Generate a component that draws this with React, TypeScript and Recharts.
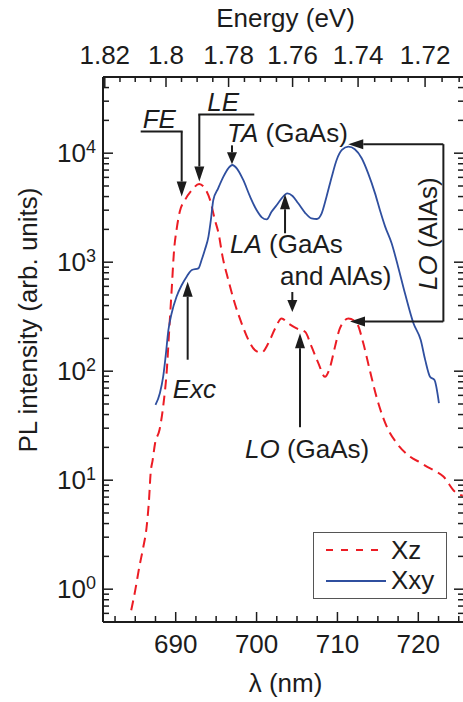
import { ComposedChart, Line, XAxis, YAxis, Legend, ReferenceDot, ReferenceLine, Label } from "recharts"

// Xz spectrum (red dashed)
const XZ_LAMBDA = [684.5, 685.0, 685.5, 686.0, 686.4, 686.7, 686.9, 687.15, 687.45, 688.0, 688.5, 688.9, 689.2, 689.5, 689.8, 690.1, 690.5, 691.15, 692.0, 692.9, 693.6, 694.25, 694.85, 695.3, 695.8, 696.5, 697.3, 698.15, 699.0, 699.8, 700.6, 701.45, 702.3, 703.1, 703.9, 704.95, 706.0, 706.8, 707.65, 708.45, 709.1, 709.7, 710.3, 711.35, 712.4, 713.2, 714.0, 715.05, 716.1, 717.35, 719.0, 720.4, 721.05, 721.85, 723.1, 724.55, 725.5]
const XZ_INT = [0.64, 0.98, 1.6, 2.45, 3.7, 6.6, 11.6, 15.3, 21.8, 29, 51, 102, 240, 555, 1290, 1970, 2900, 3720, 4590, 5210, 4760, 3720, 2440, 1840, 1120, 690, 420, 275, 193, 156, 148, 180, 247, 305, 275, 247, 230, 168, 118, 89, 110, 168, 247, 305, 275, 180, 102, 51, 31, 21.8, 16.4, 14.3, 13.3, 12.4, 10.8, 7.8, 7.2]

// Xxy spectrum (blue solid)
const XXY_LAMBDA = [687.5, 688.05, 688.45, 688.75, 689.1, 689.5, 690.1, 690.75, 691.35, 692.0, 692.8, 693.2, 693.6, 694.05, 694.35, 694.65, 695.25, 695.9, 696.5, 697.0, 697.55, 698.35, 699.2, 700.0, 700.65, 701.25, 701.85, 702.5, 703.1, 703.8, 704.45, 705.15, 706.0, 706.8, 707.45, 708.05, 708.65, 709.3, 709.9, 710.55, 711.35, 712.15, 713.0, 713.8, 714.65, 715.25, 715.9, 716.7, 717.5, 718.35, 719.4, 720.3, 720.85, 721.45, 722.0, 722.55]
const XXY_INT = [49, 63, 89, 136, 239, 340, 482, 618, 736, 848, 878, 1047, 1294, 1714, 2440, 3720, 4760, 6090, 7260, 7790, 7260, 5680, 3990, 3010, 2580, 2470, 2900, 3350, 3850, 4280, 4050, 3470, 2840, 2520, 2490, 2810, 3990, 6090, 8660, 10700, 11480, 10860, 8980, 6530, 4280, 3010, 2120, 1490, 910, 518, 275, 193, 127, 89, 83, 51]

const X_DOMAIN = [681.01, 725.65]
const Y_DOMAIN = [0.5, 50000]
const LAMBDA_MAJOR = [690, 700, 710, 720]
const ENERGY_MAJOR = [1.82, 1.8, 1.78, 1.76, 1.74, 1.72]
const DECADES = [1, 10, 100, 1000, 10000]
const HC = 1239.84 // eV nm

const FONT = '"Liberation Sans", Arial, Helvetica, sans-serif'
const INK = "#1c1c1c"
const RED = "#ec1c24"
const BLUE = "#2f4f9f"

const W = 466
const H = 702
const PLOT_LEFT = 103
const PLOT_RIGHT = 464
const PLOT_TOP = 77
const PLOT_BOTTOM = 622

const xzData = XZ_LAMBDA.map((x, i) => ({ x, y: XZ_INT[i] }))
const xxyData = XXY_LAMBDA.map((x, i) => ({ x, y: XXY_INT[i] }))

// tick lists
const bottomTicks: number[] = []
for (let v = 682.5; v <= 725; v += 2.5) bottomTicks.push(v)
const topTicks: number[] = []
for (let m = 1820; m >= 1710; m -= 5) topTicks.push(HC / (m / 1000))
const yTicks: number[] = [0.5, 0.6, 0.7, 0.8, 0.9]
DECADES.forEach((d) => {
    for (let k = 1; k <= 9; k++) if (d * k <= Y_DOMAIN[1]) yTicks.push(d * k)
})

const SERIES_STYLE: Record<string, { color: string; dash?: string }> = {
    Xz: { color: RED, dash: "7 8" },
    Xxy: { color: BLUE },
}

function YTick({ y, payload }: any) {
    const p = Math.log10(payload.value)
    const major = Math.abs(p - Math.round(p)) < 1e-6
    const len = major ? 10 : 6
    return (
        <g>
            <line x1={PLOT_LEFT} x2={PLOT_LEFT + len} y1={y} y2={y} stroke={INK} strokeWidth={1.5} />
            <line x1={PLOT_RIGHT} x2={PLOT_RIGHT - len} y1={y} y2={y} stroke={INK} strokeWidth={1.5} />
            {major && (
                <text x={96} y={y + 9} textAnchor="end" fontSize={26} fontFamily={FONT} fill={INK}>
                    <tspan>10</tspan>
                    <tspan dy={-9} fontSize={18}>{Math.round(p)}</tspan>
                </text>
            )}
        </g>
    )
}

function BottomTick({ x, payload }: any) {
    const major = LAMBDA_MAJOR.includes(payload.value)
    return (
        <g>
            <line x1={x} x2={x} y1={PLOT_BOTTOM} y2={PLOT_BOTTOM - (major ? 10 : 6)} stroke={INK} strokeWidth={1.5} />
            {major && (
                <text x={x} y={653} textAnchor="middle" fontSize={26} fontFamily={FONT} fill={INK}>
                    {payload.value}
                </text>
            )}
        </g>
    )
}

function TopTick({ x, payload }: any) {
    const e = Math.round((HC / payload.value) * 1000) / 1000
    const major = ENERGY_MAJOR.some((m) => Math.abs(m - e) < 1e-6)
    return (
        <g>
            <line x1={x} x2={x} y1={PLOT_TOP} y2={PLOT_TOP + (major ? 10 : 5)} stroke={INK} strokeWidth={1.5} />
            {major && (
                <text x={x} y={64} textAnchor="middle" fontSize={26} fontFamily={FONT} fill={INK}>
                    {String(e)}
                </text>
            )}
        </g>
    )
}

// arrow from (cx+dx, cy+dy) to the tip (cx, cy)
function Arrow({ cx, cy, dx, dy, head = 15, half = 5 }: any) {
    const L = Math.hypot(dx, dy)
    const ux = -dx / L
    const uy = -dy / L
    const bx = cx - ux * head
    const by = cy - uy * head
    const px = -uy
    const py = ux
    return (
        <g>
            <line x1={cx + dx} y1={cy + dy} x2={bx} y2={by} stroke={INK} strokeWidth={2} />
            <path d={`M${cx},${cy}L${bx + px * half},${by + py * half}L${bx - px * half},${by - py * half}Z`} fill={INK} />
        </g>
    )
}

function Note({ x, y, children, rotate }: any) {
    return (
        <text
            x={x}
            y={y}
            fontSize={26}
            fontFamily={FONT}
            fill={INK}
            textAnchor={rotate ? "middle" : "start"}
            transform={rotate ? `rotate(-90, ${x}, ${y})` : undefined}
        >
            {children}
        </text>
    )
}

const it = (s: string) => <tspan fontStyle="italic">{s}</tspan>

function LegendBox({ payload }: any) {
    const order = ["Xz", "Xxy"]
    const items = [...(payload ?? [])].sort((a: any, b: any) => order.indexOf(a.value) - order.indexOf(b.value))
    return (
        <div style={{ width: 134, height: 67, border: "1.5px solid #555", boxSizing: "border-box", background: "#fff" }}>
            <svg width={131} height={64} style={{ display: "block" }}>
                {items.map((entry: any, i: number) => {
                    const st = SERIES_STYLE[entry.value] ?? { color: entry.color }
                    return (
                        <g key={entry.value}>
                            <line x1={12} x2={72} y1={17 + 31 * i} y2={17 + 31 * i} stroke={st.color} strokeWidth={2.2} strokeDasharray={st.dash} />
                            <text x={77} y={26 + 30 * i} fontSize={26} fontFamily={FONT} fill={INK}>
                                {entry.value}
                            </text>
                        </g>
                    )
                })}
            </svg>
        </div>
    )
}

export default function App() {
    const midX = (PLOT_LEFT + PLOT_RIGHT) / 2 + 2
    return (
        <div style={{ position: "absolute", left: 0, top: 0, width: 463, height: 702, overflow: "hidden", background: "#fff" }}>
            <ComposedChart width={W} height={H} margin={{ top: 0, right: W - PLOT_RIGHT, bottom: 0, left: 0 }}>
                <XAxis
                    xAxisId="top"
                    orientation="top"
                    type="number"
                    dataKey="x"
                    domain={X_DOMAIN}
                    allowDataOverflow
                    ticks={topTicks}
                    interval={0}
                    height={PLOT_TOP}
                    tickLine={false}
                    axisLine={{ stroke: INK, strokeWidth: 2 }}
                    tick={<TopTick />}
                >
                    <Label
                        content={() => (
                            <text x={midX} y={27} textAnchor="middle" fontSize={26} fontFamily={FONT} fill={INK}>
                                Energy (eV)
                            </text>
                        )}
                    />
                </XAxis>
                <XAxis
                    type="number"
                    dataKey="x"
                    domain={X_DOMAIN}
                    allowDataOverflow
                    ticks={bottomTicks}
                    interval={0}
                    height={H - PLOT_BOTTOM}
                    tickLine={false}
                    axisLine={{ stroke: INK, strokeWidth: 2 }}
                    tick={<BottomTick />}
                >
                    <Label
                        content={() => (
                            <text x={midX} y={692} textAnchor="middle" fontSize={26} fontFamily={FONT} fill={INK}>
                                λ (nm)
                            </text>
                        )}
                    />
                </XAxis>
                <YAxis
                    type="number"
                    scale="log"
                    domain={Y_DOMAIN}
                    allowDataOverflow
                    ticks={yTicks}
                    interval={0}
                    width={PLOT_LEFT}
                    tickLine={false}
                    axisLine={{ stroke: INK, strokeWidth: 2 }}
                    tick={<YTick />}
                >
                    <Label
                        content={() => (
                            <text x={37} y={320} transform="rotate(-90, 37, 320)" textAnchor="middle" fontSize={26} fontFamily={FONT} fill={INK}>
                                PL intensity (arb. units)
                            </text>
                        )}
                    />
                </YAxis>

                <Line data={xzData} dataKey="y" name="Xz" type="monotone" stroke={RED} strokeWidth={2} strokeDasharray="10 6" dot={false} isAnimationActive={false} />
                <Line data={xxyData} dataKey="y" name="Xxy" type="monotone" stroke={BLUE} strokeWidth={1.8} dot={false} isAnimationActive={false} />

                {/* FE */}
                <ReferenceDot x={690.74} y={4000} r={0} ifOverflow="visible" shape={({ cx, cy }: any) => (
                    <g>
                        <line x1={cx - 41} x2={cx + 1} y1={cy - 65} y2={cy - 65} stroke={INK} strokeWidth={2} />
                        <Arrow cx={cx} cy={cy} dx={0} dy={-65} />
                        <Note x={cx - 39} y={cy - 69}>{it("FE")}</Note>
                    </g>
                )} />
                {/* LE */}
                <ReferenceDot x={692.92} y={5500} r={0} ifOverflow="visible" shape={({ cx, cy }: any) => (
                    <g>
                        <line x1={cx - 1} x2={cx + 55} y1={cy - 67} y2={cy - 67} stroke={INK} strokeWidth={2} />
                        <Arrow cx={cx} cy={cy} dx={0} dy={-67} />
                        <Note x={cx + 8} y={cy - 70}>{it("LE")}</Note>
                    </g>
                )} />
                {/* TA (GaAs) */}
                <ReferenceDot x={696.96} y={7900} r={0} ifOverflow="visible" shape={({ cx, cy }: any) => (
                    <g>
                        <Arrow cx={cx} cy={cy} dx={0} dy={-19} head={12} />
                        <Note x={cx - 5} y={cy - 22}>{it("TA")} (GaAs)</Note>
                    </g>
                )} />
                {/* LA (GaAs and AlAs) */}
                <ReferenceDot x={703.52} y={4200} r={0} ifOverflow="visible" shape={({ cx, cy }: any) => (
                    <g>
                        <Arrow cx={cx} cy={cy} dx={0} dy={39} />
                        <Note x={cx - 55} y={cy + 59}>{it("LA")} (GaAs</Note>
                        <Note x={cx - 5} y={cy + 91}>and AlAs)</Note>
                    </g>
                )} />
                <ReferenceDot x={704.42} y={349} r={0} ifOverflow="visible" shape={({ cx, cy }: any) => (
                    <Arrow cx={cx} cy={cy} dx={0} dy={-20} head={12} />
                )} />
                {/* Exc */}
                <ReferenceDot x={691.48} y={662} r={0} ifOverflow="visible" shape={({ cx, cy }: any) => (
                    <g>
                        <Arrow cx={cx} cy={cy} dx={0} dy={78} />
                        <Note x={cx - 15} y={cy + 116}>{it("Exc")}</Note>
                    </g>
                )} />
                {/* LO (GaAs) */}
                <ReferenceDot x={705.37} y={223} r={0} ifOverflow="visible" shape={({ cx, cy }: any) => (
                    <g>
                        <Arrow cx={cx} cy={cy} dx={0} dy={94} />
                        <Note x={cx - 55} y={cy + 125}>{it("LO")} (GaAs)</Note>
                    </g>
                )} />
                {/* LO (AlAs) bracket */}
                <ReferenceLine segment={[{ x: 723.1, y: 12100 }, { x: 723.1, y: 285 }]} stroke={INK} strokeWidth={2} ifOverflow="visible" />
                <ReferenceDot x={711.34} y={12100} r={0} ifOverflow="visible" shape={({ cx, cy }: any) => (
                    <Arrow cx={cx} cy={cy} dx={95} dy={0} />
                )} />
                <ReferenceDot x={711.55} y={285} r={0} ifOverflow="visible" shape={({ cx, cy }: any) => (
                    <g>
                        <Arrow cx={cx} cy={cy} dx={93.3} dy={0} />
                        <Note x={cx + 87} y={cy - 88} rotate>{it("LO")} (AlAs)</Note>
                    </g>
                )} />

                <Legend
                    layout="vertical"
                    align="center"
                    verticalAlign="middle"
                    content={<LegendBox />}
                    wrapperStyle={{ left: 313, top: 532, width: 134, height: 67 }}
                />
            </ComposedChart>
        </div>
    )
}
